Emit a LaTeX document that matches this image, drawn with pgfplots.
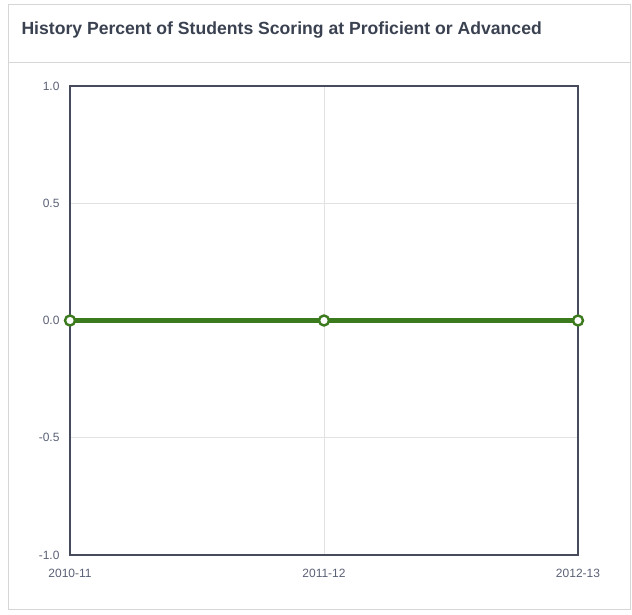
\documentclass[border=0pt]{standalone}
\usepackage{pgfplots}
\pgfplotsset{compat=1.18}
\usepackage{fontspec}
\setmainfont{Liberation Sans}
\definecolor{titlec}{HTML}{3A4150}
\definecolor{tickc}{HTML}{5A6075}
\definecolor{framec}{HTML}{D6D6D6}
\definecolor{boxc}{HTML}{474C5C}
\definecolor{gridc}{HTML}{E2E2E2}
\definecolor{greenc}{HTML}{3C7A1E}
\begin{document}
\begin{tikzpicture}[x=1pt,y=1pt]
\path[use as bounding box] (0,0) rectangle (632,614);
\draw[framec, line width=1pt] (8,5) rectangle (630,609);
\draw[framec, line width=0.8pt] (8,552) -- (630,552);
\node[anchor=west, text=titlec, font=\bfseries\fontsize{17.6}{20}\selectfont] at (18,584) {History Percent of Students Scoring at Proficient or Advanced};
\begin{axis}[
  at={(70pt,59pt)}, anchor=south west,
  width=508pt, height=469pt, scale only axis,
  xmin=0, xmax=2, ymin=-1, ymax=1,
  xtick={0,1,2}, xticklabels={2010-11,2011-12,2012-13},
  ytick={-1,-0.5,0,0.5,1},
  yticklabel style={/pgf/number format/fixed, /pgf/number format/precision=1, /pgf/number format/fixed zerofill},
  /pgf/number format/assume math mode=true,
  tick label style={font=\fontsize{12}{14}\selectfont, text=tickc},
  xticklabel style={yshift=-11pt},
  yticklabel style={xshift=-7pt},
  major tick length=0pt,
  grid=major, major grid style={gridc, line width=0.6pt},
  axis line style={boxc, line width=2pt},
  clip=false,
]
\addplot[greenc, line width=5pt, mark=*, mark size=5pt, mark options={fill=white, draw=greenc, line width=2.4pt}] coordinates {(0,0) (1,0) (2,0)};
\end{axis}
\end{tikzpicture}
\end{document}
